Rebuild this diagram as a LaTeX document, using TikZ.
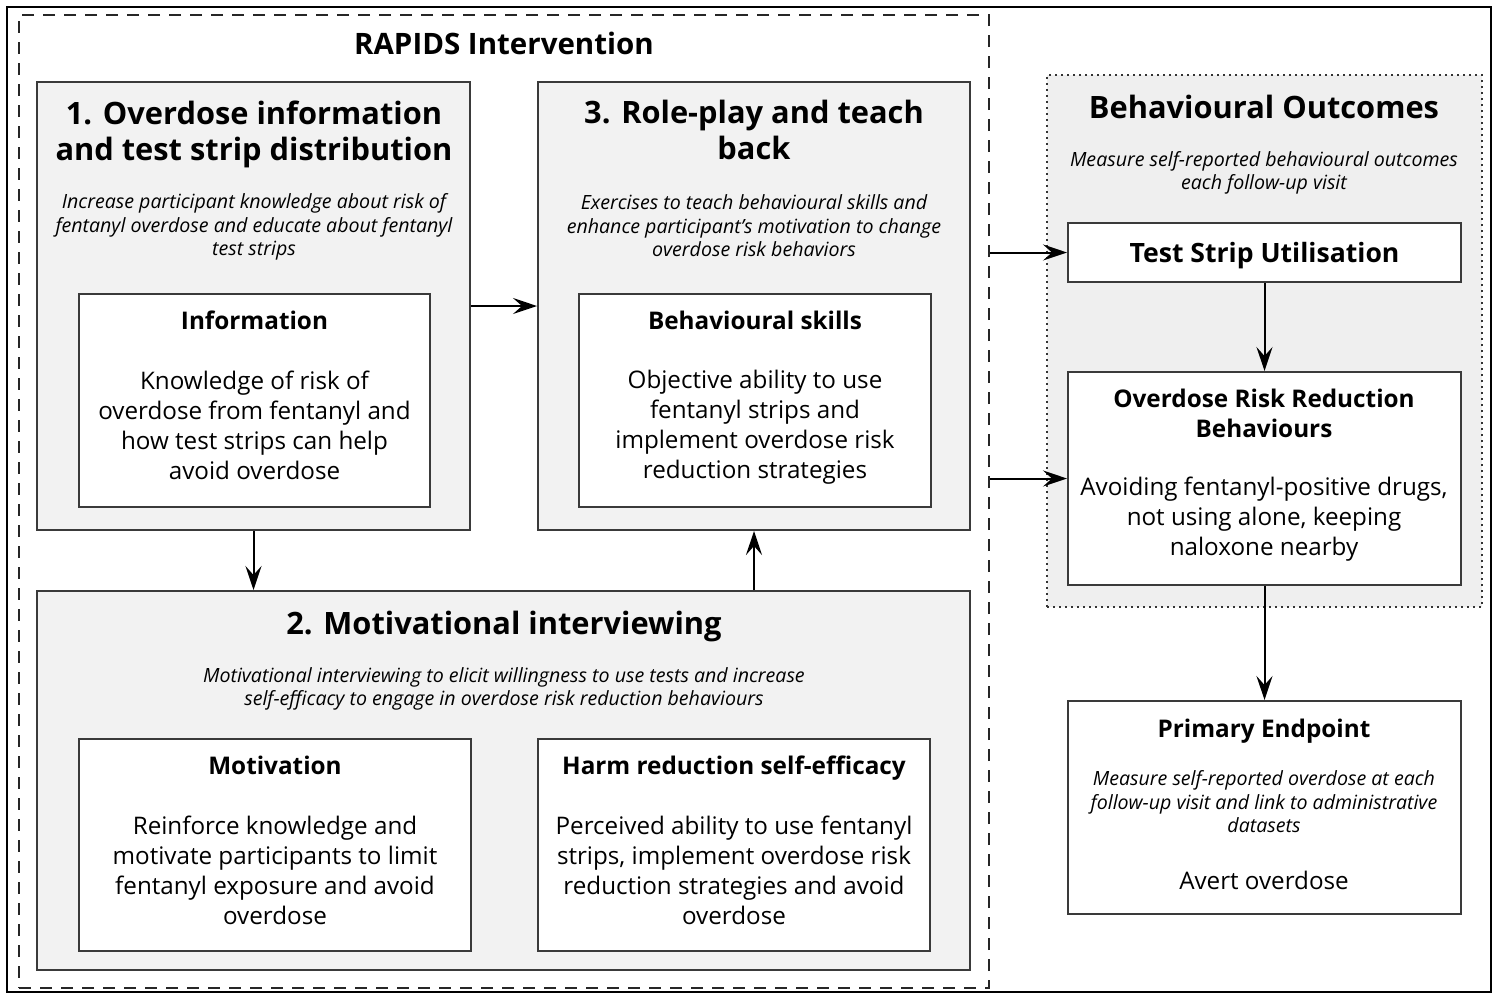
\documentclass[tikz,border=0pt]{standalone}
\usepackage{fontspec}
\setmainfont{Open Sans}
\usetikzlibrary{arrows.meta,calc}
\definecolor{boxgrey}{HTML}{F2F2F2}
\definecolor{outgrey}{HTML}{EFEFEF}
\definecolor{edge}{HTML}{3A3A3A}
\tikzset{
  box/.style={draw=edge,line width=2pt,fill=boxgrey,minimum width=#1,inner sep=0pt},
  wbox/.style={draw=edge,line width=2pt,fill=white,inner sep=0pt},
  head/.style={inner sep=0pt,align=center,font=\fontsize{30.8}{36}\selectfont\bfseries},
  sub/.style={inner sep=0pt,align=center,font=\fontsize{24.3}{30}\selectfont\bfseries},
  body/.style={inner sep=0pt,align=center,font=\fontsize{24.2}{30}\selectfont},
  ital/.style={inner sep=0pt,align=center,font=\fontsize{19.6}{23.5}\selectfont\itshape},
  arr/.style={line width=2pt,-{Stealth[length=24pt,width=16pt,inset=9pt]}},
}
\begin{document}
\begin{tikzpicture}[x=1pt,y=-1pt]
\useasboundingbox (0,0) rectangle (1499,994);
% outer frame
\node[draw=black,line width=1.6pt,minimum width=1484pt,minimum height=985pt,inner sep=0pt] (frame) at (749,499.5) {};
% RAPIDS dashed box
\node[draw=black!85,line width=2pt,dash pattern=on 12pt off 9pt,minimum width=970pt,minimum height=973pt,inner sep=0pt] (rapids) at (504,501.5) {};
\node[inner sep=0pt,font=\fontsize{29.5}{34}\selectfont\bfseries] (rtitle) at (504,43) {RAPIDS Intervention};
% Behavioural outcomes dotted box
\node[draw=black!80,line width=2pt,dash pattern=on 2pt off 4pt,fill=outgrey,minimum width=435pt,minimum height=532pt,inner sep=0pt] (bo) at (1264.5,341) {};
% box 1
\node[box=433pt,minimum height=448pt] (b1) at (253.5,306) {};
\node[head] (b1h) at (254,134) {1. Overdose information\\and test strip distribution};
\node[ital] (b1i) at (254,227) {Increase participant knowledge about risk of\\fentanyl overdose and educate about fentanyl\\test strips};
\node[wbox,minimum width=351pt,minimum height=213pt] (i1) at (254.5,400.5) {};
\node[sub] (i1t) at (254.5,320.5) {Information};
\node[body] (i1b) at (254.5,425) {Knowledge of risk of\\overdose from fentanyl and\\how test strips can help\\avoid overdose};
% box 3
\node[box=432pt,minimum height=448pt] (b3) at (754,306) {};
\node[head] (b3h) at (754,130) {3. Role-play and teach\\back};
\node[ital] (b3i) at (754,226) {Exercises to teach behavioural skills and\\enhance participant’s motivation to change\\overdose risk behaviors};
\node[wbox,minimum width=352pt,minimum height=213pt] (i3) at (755,400.5) {};
\node[sub] (i3t) at (755,320.5) {Behavioural skills};
\node[body] (i3b) at (755,427.5) {Objective ability to use\\fentanyl strips and\\implement overdose risk\\reduction strategies};
% box 2
\node[box=933pt,minimum height=379pt] (b2) at (503.5,780.5) {};
\node[head] (b2h) at (504,626) {2. Motivational interviewing};
\node[ital] (b2i) at (504,689) {Motivational interviewing to elicit willingness to use tests and increase\\self-efficacy to engage in overdose risk reduction behaviours};
\node[wbox,minimum width=392pt,minimum height=212pt] (i2a) at (275,845) {};
\node[sub] (i2at) at (275,765.5) {Motivation};
\node[body] (i2ab) at (275,870.5) {Reinforce knowledge and\\motivate participants to limit\\fentanyl exposure and avoid\\overdose};
\node[wbox,minimum width=392pt,minimum height=212pt] (i2b) at (734,845) {};
\node[sub] (i2bt) at (734,768) {Harm reduction self-efficacy};
\node[body] (i2bb) at (734,870.5) {Perceived ability to use fentanyl\\strips, implement overdose risk\\reduction strategies and avoid\\overdose};
% behavioural outcomes content
\node[head] (boh) at (1264,107) {Behavioural Outcomes};
\node[ital] (boi) at (1264,173) {Measure self-reported behavioural outcomes\\each follow-up visit};
\node[wbox,minimum width=393pt,minimum height=59pt] (tsu) at (1264.5,252.5) {};
\node[inner sep=0pt,font=\fontsize{26.6}{30}\selectfont\bfseries] (tsut) at (1264.5,255.5) {Test Strip Utilisation};
\node[wbox,minimum width=393pt,minimum height=213pt] (orr) at (1264.5,478.5) {};
\node[sub] (orrt) at (1264,413.5) {Overdose Risk Reduction\\Behaviours};
\node[body] (orrb) at (1264,519.5) {Avoiding fentanyl-positive drugs,\\not using alone, keeping\\naloxone nearby};
% primary endpoint
\node[wbox,minimum width=393pt,minimum height=213pt] (pe) at (1264.5,807.5) {};
\node[sub] (pet) at (1264,731) {Primary Endpoint};
\node[ital] (pei) at (1264,802) {Measure self-reported overdose at each\\follow-up visit and link to administrative\\datasets};
\node[body] (peb) at (1264,880.5) {Avert overdose};
% arrows
\draw[arr] (b1.east) -- (b3.west);
\draw[arr] (b1.south) -- (b1.south |- b2.north);
\draw[arr] (b3.south |- b2.north) -- (b3.south);
\draw[arr] (rapids.east |- tsu.west) -- (tsu.west);
\draw[arr] (rapids.east |- orr.west) -- (orr.west);
\draw[arr] (tsu.south) -- (orr.north);
\draw[arr] (orr.south) -- (pe.north);
\end{tikzpicture}
\end{document}
